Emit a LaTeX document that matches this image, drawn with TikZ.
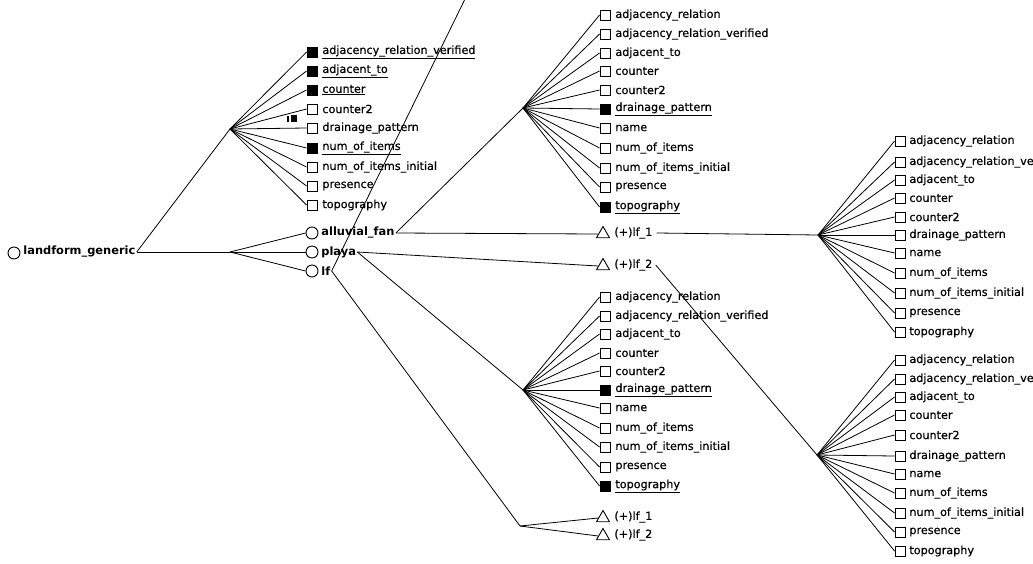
\documentclass[tikz,border=0pt]{standalone}
\usepackage{fontspec}
\setmainfont{DejaVu Sans}
\newfontfamily\leaffam{DejaVu Sans}[FakeBold=0.6]
\usetikzlibrary{shapes.geometric}
\newcommand\leaffont{\leaffam\fontsize{11.2}{12}\selectfont}
\newcommand\bigfont{\fontsize{11.4}{12}\selectfont\bfseries}
\begin{document}
\begin{tikzpicture}[x=1pt,y=-1pt, line width=0.8pt,
  sq/.style={draw, rectangle, minimum size=10pt, inner sep=0pt, line width=0.9pt},
  fsq/.style={sq, fill=black},
  circ/.style={draw, circle, minimum size=12pt, inner sep=0pt, line width=0.9pt},
  tri/.style={draw, regular polygon, regular polygon sides=3, minimum size=15pt, inner sep=0pt, line width=0.9pt},
  txt/.style={font=\leaffont, anchor=west, inner sep=1pt},
  btxt/.style={font=\bigfont, anchor=west, inner sep=1pt}]
\useasboundingbox (0,0) rectangle (1033,563);

% root
\node[circ] (c0) at (14,253) {};
\node[btxt] (t0) at (22,252) {landform\_generic};
\coordinate (hub1) at (230,129);
\coordinate (hub2) at (230,252);
\draw (t0.east) -- (hub1);
\draw (t0.east) -- (hub2);

% top-left cluster
\foreach \yy/\sty/\lab [count=\i] in {
  52/fsq/\underline{adjacency\_relation\_verified},
  71/fsq/\underline{adjacent\_to},
  90/fsq/\underline{counter},
  109/sq/counter2,
  128/sq/drainage\_pattern,
  148/fsq/\underline{num\_of\_items},
  167/sq/num\_of\_items\_initial,
  186/sq/presence,
  205/sq/topography} {
  \node[\sty] (L\i) at (312,\yy) {};
  \node[txt] (LT\i) at (321,\yy) {\lab};
  \draw (hub1) -- (L\i.west);
}
\fill (287,116) rectangle (289,122);
\fill (291,115) rectangle (297,122);

% second level
\node[circ] (ca) at (312,233) {};
\node[btxt] (ta) at (320,233) {alluvial\_fan};
\node[circ] (cp) at (312,252) {};
\node[btxt] (tp) at (320,252) {playa};
\node[circ] (cl) at (312,271) {};
\node[btxt] (tl) at (320,271) {lf};
\draw (hub2) -- (ca.west);
\draw (hub2) -- (cp.west);
\draw (hub2) -- (cl.west);

\coordinate (hubM1) at (523,108);
\coordinate (hubM2) at (523,390);
\coordinate (hubB) at (520,526);
\coordinate (hubR1) at (818,235);
\coordinate (hubR2) at (817,455);
\coordinate (topend) at (466,-3);

% triangles
\node[tri] (g1) at (603,234) {};
\node[txt] (gt1) at (613,233) {(+)lf\_1};
\node[tri] (g2) at (603,266) {};
\node[txt] (gt2) at (613,265) {(+)lf\_2};
\node[tri] (g3) at (603,518) {};
\node[txt] (gt3) at (613,517) {(+)lf\_1};
\node[tri] (g4) at (603,536) {};
\node[txt] (gt4) at (613,535) {(+)lf\_2};

\draw (ta.east) -- (hubM1);
\draw (ta.east) -- (g1.west);
\draw (tp.east) -- (g2.west);
\draw (tp.east) -- (hubM2);
\draw (tl.east) -- (topend);
\draw (tl.east) -- (hubB);
\draw (hubB) -- (g3.west);
\draw (hubB) -- (g4.west);
\draw ([xshift=3pt]gt1.east) -- (hubR1);
\draw ([xshift=2pt]gt2.east) -- (hubR2);

% middle top cluster
\foreach \yy/\sty/\lab [count=\i] in {
  15/sq/adjacency\_relation,
  34/sq/adjacency\_relation\_verified,
  53/sq/adjacent\_to,
  71/sq/counter,
  90/sq/counter2,
  109/fsq/\underline{drainage\_pattern},
  128/sq/name,
  148/sq/num\_of\_items,
  168/sq/num\_of\_items\_initial,
  187/sq/presence,
  207/fsq/\underline{topography}} {
  \node[\sty] (A\i) at (605,\yy) {};
  \node[txt] (AT\i) at (614,\yy) {\lab};
  \draw (hubM1) -- (A\i.west);
}

% middle lower cluster
\foreach \yy/\sty/\lab [count=\i] in {
  297/sq/adjacency\_relation,
  316/sq/adjacency\_relation\_verified,
  334/sq/adjacent\_to,
  353/sq/counter,
  371/sq/counter2,
  390/fsq/\underline{drainage\_pattern},
  408/sq/name,
  428/sq/num\_of\_items,
  447/sq/num\_of\_items\_initial,
  467/sq/presence,
  486/fsq/\underline{topography}} {
  \node[\sty] (B\i) at (605,\yy) {};
  \node[txt] (BT\i) at (614,\yy) {\lab};
  \draw (hubM2) -- (B\i.west);
}

% right top cluster
\foreach \yy/\lab [count=\i] in {
  141/adjacency\_relation,
  162/adjacency\_relation\_verified,
  180/adjacent\_to,
  198/counter,
  217/counter2,
  235/drainage\_pattern,
  253/name,
  273/num\_of\_items,
  293/num\_of\_items\_initial,
  313/presence,
  332/topography} {
  \node[sq] (C\i) at (900,\yy) {};
  \node[txt] (CT\i) at (908,\yy) {\lab};
  \draw (hubR1) -- (C\i.west);
}

% right bottom cluster
\foreach \yy/\lab [count=\i] in {
  360/adjacency\_relation,
  379/adjacency\_relation\_verified,
  397/adjacent\_to,
  415/counter,
  435/counter2,
  456/drainage\_pattern,
  474/name,
  493/num\_of\_items,
  513/num\_of\_items\_initial,
  532/presence,
  551/topography} {
  \node[sq] (D\i) at (900,\yy) {};
  \node[txt] (DT\i) at (908,\yy) {\lab};
  \draw (hubR2) -- (D\i.west);
}
\end{tikzpicture}
\end{document}
